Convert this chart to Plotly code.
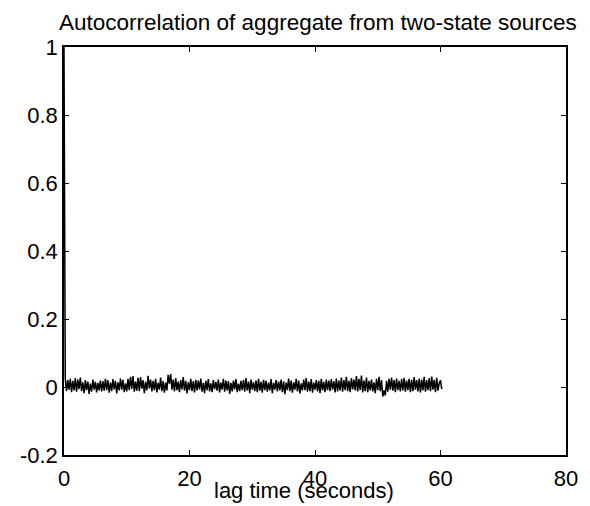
import plotly.graph_objects as go

# autocorrelation values (thousandths), lag step 0.2 s, starting at lag 0
start_vals = [1000, 25]
noise_vals = [
    -12, 20, -8, 24, -15, 18, -10, 26, -14,
    22, -6, 28, -12, 14, -18, 20, -9, 16, -20,
    10, -14, 22, -8, 15, -16, 12, -10, 19, -13,
    17, -11, 24, -9, 20, -17, 13, -12, 23, -7,
    18, -19, 14, -10, 25, -8, 21, -15, 11, -13,
    24, -9, 30, -6, 32, -14, 16, -11, 27, -12,
    29, -5, 20, -18, 15, -10, 33, -4, 22, -13,
    18, -9, 24, -16, 12, -8, 28, -12, 17, -17,
    13, -10, 36, 10, 38, -8, 22, -13, 26, -9,
    16, -15, 20, -7, 29, -11, 18, -19, 14, -9,
    24, -12, 17, -16, 21, -10, 19, -7, 25, -14,
    12, -18, 18, -9, 23, -13, 11, -15, 20, -6,
    15, -11, 22, -16, 13, -8, 24, -14, 19, -10,
    17, -20, 12, -13, 19, -7, 23, -15, 10, -12,
    18, -9, 21, -14, 26, -10, 16, -18, 22, -8,
    14, -12, 19, -15, 24, -11, 15, -17, 21, -9,
    18, -14, 13, -10, 23, -18, 12, -8, 20, -13,
    16, -10, 22, -15, 17, -21, 13, -9, 25, -12,
    19, -17, 14, -8, 24, -13, 19, -19, 11, -10,
    22, -9, 26, -14, 16, -12, 23, -17, 13, -8,
    20, -13, 18, -18, 24, -10, 15, -15, 22, -9,
    19, -12, 23, -8, 17, -16, 25, -13, 19, -10,
    28, -14, 20, -9, 30, -12, 18, -15, 26, -7,
    22, -10, 32, -13, 24, -9, 34, -16, 19, -12,
    28, -15, 18, -10, 22, -13, 14, -18, 24, -9,
    30, -12, 20, -28, -10, -25, 18, -14, 24, -8,
    28, -11, 20, -15, 25, -9, 18, -13, 23, -10,
    27, -14, 19, -9, 24, -15, 21, -12, 29, -8,
    20, -13, 25, -16, 22, -10, 30, -14, 20, -9,
    26, -12, 31, -8, 21, -15, 27, -11, 12, 20, -6,
]
lag_step = 0.2

x_tickvals = [0, 20, 40, 60, 80]
y_tickvals = [-0.2, 0, 0.2, 0.4, 0.6, 0.8, 1]
y_ticktext = ["-0.2", "0", "0.2", "0.4", "0.6", "0.8", "1"]

title_text = "Autocorrelation of aggregate from two-state sources"
xlabel_text = "lag time (seconds)"

vals = start_vals + noise_vals
lags = [round(i * lag_step, 3) for i in range(len(vals))]
acf = [v / 1000 for v in vals]

font = "Liberation Sans, Arial, Helvetica, sans-serif"

fig = go.Figure()
fig.add_trace(go.Scatter(x=lags, y=acf, mode="lines",
                         line=dict(color="black", width=1.5), showlegend=False))

axis_common = dict(showgrid=False, zeroline=False, showline=True, linecolor="black",
                   linewidth=1.5, mirror="ticks", ticks="inside", ticklen=5,
                   tickwidth=1, tickcolor="black",
                   tickfont=dict(family=font, size=22, color="black"))

fig.update_xaxes(range=[0, 80], tickvals=x_tickvals, ticklabelstandoff=3, **axis_common)
fig.update_yaxes(range=[-0.2, 1], tickvals=y_tickvals, ticktext=y_ticktext, **axis_common)

# the page body has an 8px default margin; size the figure to fit the window
fig.update_layout(
    width=582, height=498,
    margin=dict(l=49, r=23, t=39, b=51),
    plot_bgcolor="white", paper_bgcolor="white",
    font=dict(family=font, color="black"),
    annotations=[
        dict(text=title_text, xref="paper", yref="paper", x=0.505, y=1 + 25 / 408,
             xanchor="center", yanchor="middle", showarrow=False,
             font=dict(family=font, size=22.5, color="black")),
        dict(text=xlabel_text, xref="paper", yref="paper", x=(301 - 57) / 510,
             y=-(36 / 408), xanchor="center", yanchor="middle", showarrow=False,
             font=dict(family=font, size=22, color="black")),
    ],
)

fig.write_html("out.html")
